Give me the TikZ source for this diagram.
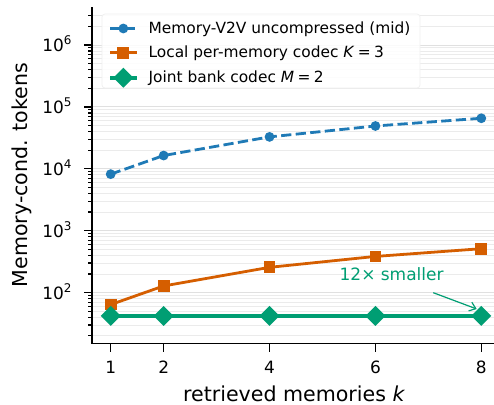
\documentclass[tikz,border=0pt]{standalone}
\usepackage{fontspec}
\setmainfont{DejaVu Sans}
\usetikzlibrary{arrows.meta}
\definecolor{memblue}{RGB}{31,122,182}
\definecolor{localorange}{HTML}{D55E00}
\definecolor{jointgreen}{HTML}{009E73}
\newcommand{\tenpow}[1]{10\raisebox{0.43em}{\fontsize{9}{9}\selectfont #1}}
\newcommand{\circmark}[2]{\fill [#1] (#2) circle (0.130000cm);}
\newcommand{\squaremark}[2]{\fill [#1] (#2) ++(-0.155000cm,-0.155000cm) rectangle ++(0.310000cm,0.310000cm);}
\newcommand{\diamondmark}[2]{\fill [#1] (#2) ++(-0.265000cm,0cm) -- ++(0.265000cm,0.265000cm) -- ++(0.265000cm,-0.265000cm) -- ++(-0.265000cm,-0.265000cm) -- cycle;}
\begin{document}
\begin{tikzpicture}[
    majorgrid/.style={line width=0.026cm, color=black!12},
    minorgrid/.style={line width=0.020cm, color=black!8},
    spine/.style={line width=0.042cm, line cap=rect},
    tickline/.style={line width=0.032cm},
    ylab/.style={anchor=base east, inner sep=0pt, xshift=-0.537104cm, yshift=-0.185208cm, font=\fontsize{12.75}{15}\selectfont},
    xlab/.style={anchor=base, inner sep=0pt, yshift=-0.785813cm, font=\fontsize{12.75}{15}\selectfont},
    axislab/.style={anchor=base, inner sep=0pt, font=\fontsize{15.5}{18}\selectfont},
    legtext/.style={anchor=base west, inner sep=0pt, yshift=-0.132292cm, font=\fontsize{11.6}{14}\selectfont},
    memline/.style={memblue, line width=2.1pt, dash pattern=on 7.7pt off 3.3pt},
    localline/.style={localorange, line width=2.1pt},
    jointline/.style={jointgreen, line width=3.1pt}
  ]
                    \fill [white] (0,0) rectangle (13.070417,10.715625);%
                    \useasboundingbox (0,0) rectangle (13.070417,10.715625);%

                    \begin{scope}[shift={(1.528155,-0.301625)}, x=1.400784cm, y=1.637771cm]
                    % Drawing minor grid lines and minor ticks
                    \foreach \d in {1,...,5} {
                      \foreach \m in {2,...,9} {
                        \draw [minorgrid] (0.646800,{\d+log10(\m)}) -- (8.240000,{\d+log10(\m)});%
                        \draw [tickline] (0.646800,{\d+log10(\m)}) -- ++(-0.119063cm,0cm);%
                      }
                    }
                    \foreach \m in {2,3} {
                      \draw [minorgrid] (0.646800,{6+log10(\m)}) -- (8.240000,{6+log10(\m)});%
                      \draw [tickline] (0.646800,{6+log10(\m)}) -- ++(-0.119063cm,0cm);%
                    }

                    % Drawing major grid lines, ticks and labels 10^2 .. 10^6
                    \foreach \d in {2,...,6} {
                      \draw [majorgrid] (0.646800,\d) -- (8.240000,\d);%
                      \draw [tickline] (0.646800,\d) -- ++(-0.211667cm,0cm);%
                      \node [ylab] (ytick\d) at (0.646800,\d) {\tenpow{\d}};%
                    }

                    % Drawing ticks on k axis
                    \foreach \k in {1,2,4,6,8} {
                      \draw [tickline] (\k,1.176091) -- ++(0cm,-0.211667cm);%
                      \node [xlab] (xtick\k) at (\k,1.176091) {\k};%
                    }

                    % Drawing spines
                    \draw [spine] (0.646800,6.602060) -- (0.646800,1.176091) -- (8.240000,1.176091);%

                    % Drawing curve Memory-V2V uncompressed
                    \draw [memline] (1,3.913390) -- (2,4.214420) -- (4,4.515450) -- (6,4.691541) -- (8,4.816480);%
                    \circmark{memblue}{1,3.913390}%
                    \circmark{memblue}{2,4.214420}%
                    \circmark{memblue}{4,4.515450}%
                    \circmark{memblue}{6,4.691541}%
                    \circmark{memblue}{8,4.816480}%

                    % Drawing curve local per-memory codec
                    \draw [localline] (1,1.806180) -- (2,2.107210) -- (4,2.408240) -- (6,2.584331) -- (8,2.709270);%
                    \squaremark{localorange}{1,1.806180}%
                    \squaremark{localorange}{2,2.107210}%
                    \squaremark{localorange}{4,2.408240}%
                    \squaremark{localorange}{6,2.584331}%
                    \squaremark{localorange}{8,2.709270}%

                    % Drawing curve joint bank codec
                    \draw [jointline] (1,1.623249) -- (2,1.623249) -- (4,1.623249) -- (6,1.623249) -- (8,1.623249);%
                    \diamondmark{jointgreen}{1,1.623249}%
                    \diamondmark{jointgreen}{2,1.623249}%
                    \diamondmark{jointgreen}{4,1.623249}%
                    \diamondmark{jointgreen}{6,1.623249}%
                    \diamondmark{jointgreen}{8,1.623249}%
                    \end{scope}

                    % Marking axis labels
                    \node [axislab] (klabel) at (7.783000,0.087313) {retrieved memories \textit{k}};%
                    \node [axislab, rotate=90] (toklabel) at (0.735500,6.085417) {Memory-cond. tokens};%

                    % Marking note 12x smaller
                    \node [anchor=base, inner sep=0pt, text=jointgreen, font=\fontsize{12.8}{15}\selectfont] (note) at (10.362000,3.280833) {12× smaller};%
                    \coordinate (notetail) at (11.464458,2.971271);%
                    \coordinate (notetip) at (12.612708,2.540000);%
                    \draw [jointgreen, line width=0.9pt, -{Straight Barb[length=4.5pt,width=7pt]}] (notetail) -- (notetip);%

                    % Drawing legend
                    \draw [fill=white, fill opacity=0.85, draw=black!6, line width=0.02cm, rounded corners=0.08cm] (2.698750,8.387292) rectangle (11.112500,10.345208);%
                    \draw [memline] (2.910417,9.961458) -- (3.616854,9.961458);%
                    \circmark{memblue}{3.263604,9.961458}%
                    \node [legtext] (legmem) at (3.923771,9.961458) {Memory-V2V uncompressed (mid)};%
                    \draw [localline] (2.910417,9.321188) -- (3.616854,9.321188);%
                    \squaremark{localorange}{3.263604,9.321188}%
                    \node [legtext] (leglocal) at (3.923771,9.321188) {Local per-memory codec \textit{K}\hspace{0.22em}=\hspace{0.22em}3};%
                    \draw [jointline] (2.910417,8.659729) -- (3.616854,8.659729);%
                    \diamondmark{jointgreen}{3.263604,8.659729}%
                    \node [legtext] (legjoint) at (3.923771,8.659729) {Joint bank codec \textit{M}\hspace{0.22em}=\hspace{0.22em}2};%
\end{tikzpicture}
\end{document}
